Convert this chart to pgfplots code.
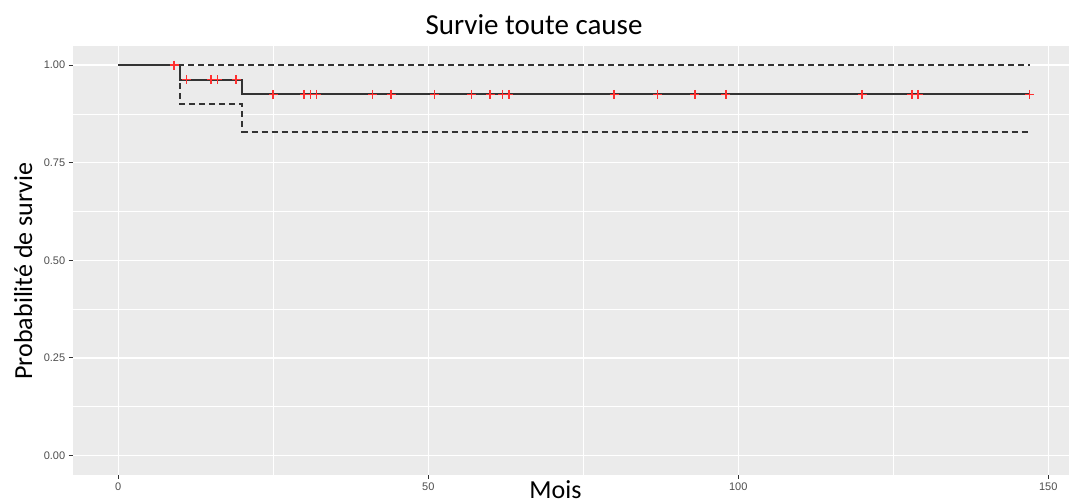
\documentclass[border=0pt]{standalone}
\usepackage{fontspec}
\setmainfont{Carlito}
\newfontfamily\tickfont{Liberation Sans}
\usepackage{pgfplots}
\pgfplotsset{compat=1.18}
\definecolor{panel}{HTML}{EBEBEB}
\definecolor{tickc}{HTML}{4D4D4D}
\definecolor{linec}{HTML}{333333}
\definecolor{cens}{HTML}{FF3030}
\begin{document}
\begin{tikzpicture}[x=1bp,y=1bp]
\path[use as bounding box] (0,0) rectangle (1069,504);
\begin{scope}
\clip (0,0) rectangle (1069,504);
\begin{axis}[
  at={(72.7bp,29bp)}, anchor=south west,
  scale only axis, width=1002.5bp, height=429.4bp,
  xmin=-7.35, xmax=154.35, ymin=-0.05, ymax=1.05,
  axis background/.style={fill=panel},
  axis line style={draw=none},
  xtick={0,50,100,150}, xticklabels={0,50,100,150},
  ytick={0,0.25,0.5,0.75,1}, yticklabels={0.00,0.25,0.50,0.75,1.00},
  minor xtick={25,75,125}, minor ytick={0.125,0.375,0.625,0.875},
  grid=both,
  major grid style={white, line width=1.4bp},
  minor grid style={white, line width=0.7bp},
  tick align=outside, xtick pos=left, ytick pos=left,
  major tick length=4bp, minor tick length=0pt,
  major tick style={linec, line width=1bp},
  ticklabel style={font=\tickfont\fontsize{11bp}{13bp}\selectfont, text=tickc},
  clip=false,
]
% confidence bands
\addplot[const plot, linec, line width=1.7bp, dash pattern=on 6bp off 4bp] coordinates {(0,1) (147,1)};
\addplot[const plot, linec, line width=1.7bp, dash pattern=on 6bp off 4bp] coordinates {(0,1) (10,0.900) (20,0.829) (147,0.829)};
% KM curve
\addplot[const plot, linec, line width=2bp] coordinates {(0,1) (10,0.963) (20,0.925) (147,0.925)};
% censored
\addplot[only marks, mark=+, mark size=4.5bp, color=cens, mark options={draw=cens, line width=1.6bp}] coordinates {
(9,1)
(11,0.963) (15,0.963) (16,0.963) (19,0.963)
(25,0.925) (30,0.925) (31,0.925) (32,0.925) (41,0.925) (44,0.925) (51,0.925)
(57,0.925) (60,0.925) (62,0.925) (63,0.925) (80,0.925) (87,0.925) (93,0.925)
(98,0.925) (120,0.925) (128,0.925) (129,0.925) (147,0.925)
};
\end{axis}
\end{scope}
\node[anchor=base, inner sep=0pt] at (534,469) {\fontsize{29bp}{34bp}\selectfont Survie toute cause};
\node[anchor=base, inner sep=0pt] at (555.5,5.5) {\fontsize{26bp}{30bp}\selectfont Mois};
\node[anchor=base, rotate=90, inner sep=0pt] at (32,233) {\fontsize{26bp}{30bp}\selectfont Probabilité de survie};
\end{tikzpicture}
\end{document}
